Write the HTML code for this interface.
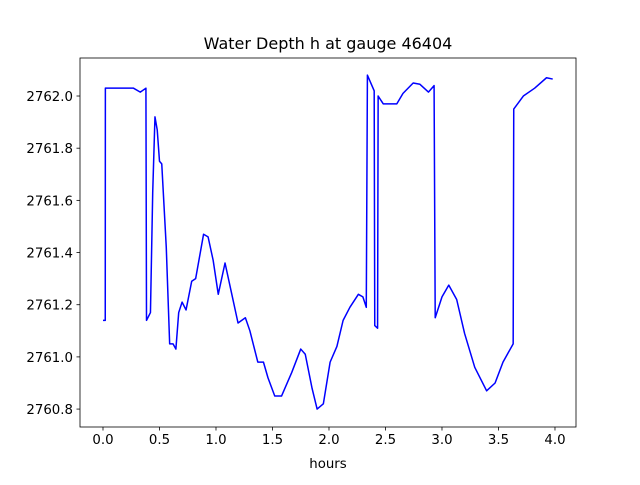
<!DOCTYPE html>
<html><head><meta charset="utf-8"><style>
body{margin:0;background:#fff}
svg text{font-family:"DejaVu Sans","Liberation Sans",sans-serif;fill:#000}
</style></head><body>
<svg id="chart" width="640" height="480">
<rect width="640" height="480" fill="#fff"/>
<text x="328" y="49" text-anchor="middle" font-size="16">Water Depth h at gauge 46404</text>
<g id="plot"></g>
<text x="328" y="468" text-anchor="middle" font-size="13.33">hours</text>
</svg>
<script>
const hours=[0.00,0.02,0.021,0.27,0.33,0.38,0.385,0.42,0.44,0.46,0.48,0.50,0.52,0.56,0.59,0.62,0.645,0.67,0.70,0.735,0.785,0.82,0.89,0.93,0.975,1.02,1.08,1.13,1.195,1.26,1.30,1.37,1.42,1.46,1.52,1.58,1.67,1.75,1.79,1.85,1.895,1.95,2.01,2.07,2.125,2.185,2.26,2.30,2.33,2.34,2.40,2.405,2.43,2.435,2.48,2.60,2.655,2.745,2.805,2.88,2.93,2.94,3.00,3.06,3.13,3.20,3.29,3.395,3.47,3.54,3.63,3.635,3.72,3.82,3.925,3.98];
const depth=[2761.14,2761.14,2762.03,2762.03,2762.015,2762.03,2761.14,2761.17,2761.63,2761.92,2761.87,2761.75,2761.74,2761.42,2761.05,2761.05,2761.03,2761.17,2761.21,2761.18,2761.29,2761.30,2761.47,2761.46,2761.37,2761.24,2761.36,2761.26,2761.13,2761.15,2761.10,2760.98,2760.98,2760.92,2760.85,2760.85,2760.94,2761.03,2761.01,2760.88,2760.80,2760.82,2760.98,2761.04,2761.14,2761.19,2761.24,2761.23,2761.19,2762.08,2762.02,2761.12,2761.11,2762.00,2761.97,2761.97,2762.01,2762.05,2762.045,2762.015,2762.04,2761.15,2761.23,2761.275,2761.22,2761.09,2760.96,2760.87,2760.90,2760.98,2761.05,2761.95,2762.00,2762.03,2762.07,2762.065];
const xTicks=[0,0.5,1,1.5,2,2.5,3,3.5,4];
const xTickLabels=["0.0","0.5","1.0","1.5","2.0","2.5","3.0","3.5","4.0"];
const yTicks=[2760.8,2761.0,2761.2,2761.4,2761.6,2761.8,2762.0];
const yTickLabels=["2760.8","2761.0","2761.2","2761.4","2761.6","2761.8","2762.0"];

const L=80,R=576,T=58,B=427;
const xmin=-0.2035,xmax=4.186,ymin=2760.7313,ymax=2762.1457;
const sx=v=>L+(v-xmin)/(xmax-xmin)*(R-L);
const sy=v=>B-(v-ymin)/(ymax-ymin)*(B-T);
const NS="http://www.w3.org/2000/svg";
const g=document.getElementById('plot');
function mk(t,a){const e=document.createElementNS(NS,t);for(const k in a)e.setAttribute(k,a[k]);g.appendChild(e);return e;}

const line=mk('polyline',{points:hours.map((h,i)=>sx(h).toFixed(2)+','+sy(depth[i]).toFixed(2)).join(' '),fill:'none',stroke:'#0000ff','stroke-width':1.5,'stroke-linejoin':'round'});



xTicks.forEach((v,i)=>{
  const x=sx(v);
  const t=mk('line',{x1:x,x2:x,y1:B,y2:B+3.5,stroke:'#000','stroke-width':0.8});
  
  
  const lb=mk('text',{x:x,y:B+17,'text-anchor':'middle','font-size':13.33});
  lb.textContent=xTickLabels[i];
  
  
});
yTicks.forEach((v,i)=>{
  const y=sy(v);
  const t=mk('line',{x1:L-3.5,x2:L,y1:y,y2:y,stroke:'#000','stroke-width':0.8});
  
  
  const lb=mk('text',{x:L-7,y:y+5,'text-anchor':'end','font-size':13.33});
  lb.textContent=yTickLabels[i];
  
  
});
const fr=mk('rect',{x:L,y:T,width:R-L,height:B-T,fill:'none',stroke:'#000','stroke-width':0.8});


</script>
</body></html>
